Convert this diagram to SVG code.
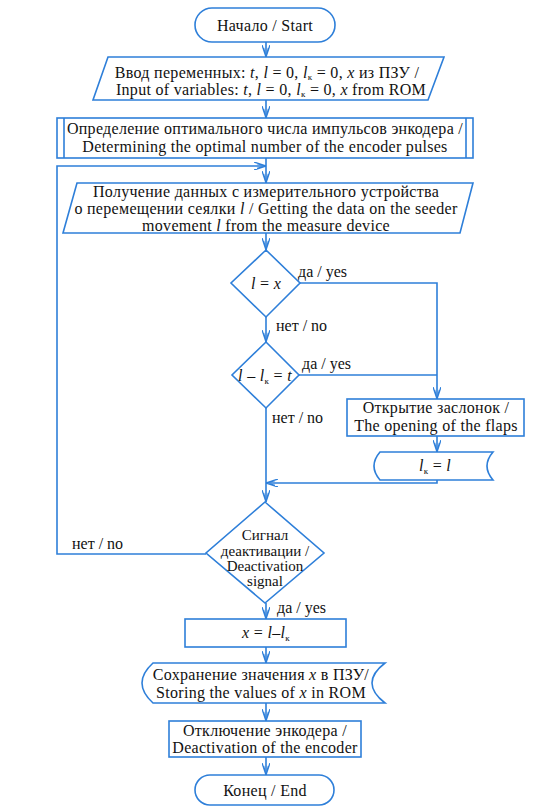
<svg xmlns="http://www.w3.org/2000/svg" width="558" height="812" viewBox="0 0 558 812">
<defs>
<marker id="arr" viewBox="0 0 12 8" refX="12" refY="4" markerWidth="12" markerHeight="8" markerUnits="userSpaceOnUse" orient="auto">
<path d="M0,0 L12,4 L0,8 M3,1.6 L12,4 L3,6.4" fill="none" stroke="#2e7fd9" stroke-width="1.3"/>
</marker>
<style>
.s{fill:#fff;stroke:#2e7fd9;stroke-width:1.6}
.c{fill:none;stroke:#2e7fd9;stroke-width:1.6}
.m{text-anchor:middle;letter-spacing:0.3px}
.i{font-style:italic}
.sub{font-size:9px}
.d{font-size:15px;letter-spacing:0}
.l{font-size:16px}
</style>
</defs>
<rect width="558" height="812" fill="#fff"/>
<g font-family="Liberation Serif, serif" font-size="16" fill="#111">
<g id="connectors">
<path class="c" d="M266,42 V57" marker-end="url(#arr)"/>
<path class="c" d="M266,100 V118" marker-end="url(#arr)"/>
<path class="c" d="M266,158 V183" marker-end="url(#arr)"/>
<path class="c" d="M206,554 H57 V166 H266" marker-end="url(#arr)"/>
<path class="c" d="M266,233 V250" marker-end="url(#arr)"/>
<path class="c" d="M266,317 V342" marker-end="url(#arr)"/>
<path class="c" d="M300,283 H437 V399" marker-end="url(#arr)"/>
<path class="c" d="M299,375 H437"/>
<path class="c" d="M437,436 V452" marker-end="url(#arr)"/>
<path class="c" d="M437,480 V483 H266" marker-end="url(#arr)"/>
<path class="c" d="M266,408 V502" marker-end="url(#arr)"/>
<path class="c" d="M266,603 V619" marker-end="url(#arr)"/>
<path class="c" d="M266,647 V663" marker-end="url(#arr)"/>
<path class="c" d="M266,703 V721" marker-end="url(#arr)"/>
<path class="c" d="M266,757 V775" marker-end="url(#arr)"/>
<text class="l" x="298" y="277">да / yes</text>
<text class="l" x="276" y="331">нет / no</text>
<text class="l" x="302" y="369">да / yes</text>
<text class="l" x="272" y="423">нет / no</text>
<text class="l" x="72" y="549">нет / no</text>
<text class="l" x="277" y="613">да / yes</text>
</g>
<g id="start">
<rect class="s" x="195" y="8" width="140" height="34" rx="17"/>
<text class="m" x="265" y="31">Начало / Start</text>
</g>
<g id="input">
<path class="s" d="M108,57 H444 L428,100 H93 Z"/>
<text class="m" x="267" y="78">Ввод переменных: <tspan class="i">t</tspan>, <tspan class="i">l</tspan> = 0, <tspan class="i">l</tspan><tspan class="sub" dy="1.5">к</tspan><tspan dy="-1.5"> = 0, </tspan><tspan class="i">x</tspan> из ПЗУ /</text>
<text class="m" x="271" y="95">Input of variables: <tspan class="i">t</tspan>, <tspan class="i">l</tspan> = 0, <tspan class="i">l</tspan><tspan class="sub" dy="1.5">к</tspan><tspan dy="-1.5"> = 0, </tspan><tspan class="i">x</tspan> from ROM</text>
</g>
<g id="optimal">
<rect class="s" x="57" y="118" width="416" height="40"/>
<path class="c" d="M64,118 V158 M466,118 V158"/>
<text class="m" x="265" y="134">Определение оптимального числа импульсов энкодера /</text>
<text class="m" x="265" y="152">Determining the optimal number of the encoder pulses</text>
</g>
<g id="getdata">
<path class="s" d="M77,183 H473 L460,233 H63 Z"/>
<text class="m" x="266" y="197">Получение данных с измерительного устройства</text>
<text class="m" x="266" y="214">о перемещении сеялки <tspan class="i">l</tspan> / Getting the data on the seeder</text>
<text class="m" x="266" y="231">movement <tspan class="i">l</tspan> from the measure device</text>
</g>
<g id="dec1">
<path class="s" d="M266,250 L300,283 L266,317 L231,283 Z"/>
<text class="m" x="266" y="289"><tspan class="i">l</tspan> = <tspan class="i">x</tspan></text>
</g>
<g id="dec2">
<path class="s" d="M266,342 L299,375 L266,408 L232,375 Z"/>
<text class="m" x="265" y="381"><tspan class="i">l</tspan> – <tspan class="i">l</tspan><tspan class="sub" dy="3">к</tspan><tspan dy="-3"> = </tspan><tspan class="i">t</tspan></text>
</g>
<g id="open">
<rect class="s" x="347" y="399" width="177" height="37"/>
<text class="m" x="436" y="413">Открытие заслонок /</text>
<text class="m" x="436" y="431">The opening of the flaps</text>
</g>
<g id="lk">
<path class="s" d="M380,452 H493 Q481,466 493,480 H380 Q368,466 380,452 Z"/>
<text class="m" x="435" y="471"><tspan class="i">l</tspan><tspan class="sub" dy="3">к</tspan><tspan dy="-3"> = </tspan><tspan class="i">l</tspan></text>
</g>
<g id="dec3">
<path class="s" d="M265,502 L324,553 L265,603 L206,553 Z"/>
<text class="m d" x="265" y="540">Сигнал</text>
<text class="m d" x="265" y="556">деактивации /</text>
<text class="m d" x="265" y="571">Deactivation</text>
<text class="m d" x="265" y="586">signal</text>
</g>
<g id="calc">
<rect class="s" x="185" y="619" width="161" height="28"/>
<text class="m" x="266" y="638"><tspan class="i">x</tspan> = <tspan class="i">l</tspan>–<tspan class="i">l</tspan><tspan class="sub" dy="3">к</tspan></text>
</g>
<g id="store">
<path class="s" d="M153,663 H385 Q359,683 385,703 H153 Q131,683 153,663 Z"/>
<text class="m" x="261" y="680">Сохранение значения <tspan class="i">x</tspan> в ПЗУ/</text>
<text class="m" x="261" y="698">Storing the values of <tspan class="i">x</tspan> in ROM</text>
</g>
<g id="deact">
<rect class="s" x="169" y="721" width="192" height="36"/>
<text class="m" x="265" y="736">Отключение энкодера /</text>
<text class="m" x="265" y="753">Deactivation of the encoder</text>
</g>
<g id="end">
<rect class="s" x="195" y="775" width="139" height="30" rx="15"/>
<text class="m" x="265" y="796">Конец / End</text>
</g>
</g>
</svg>
